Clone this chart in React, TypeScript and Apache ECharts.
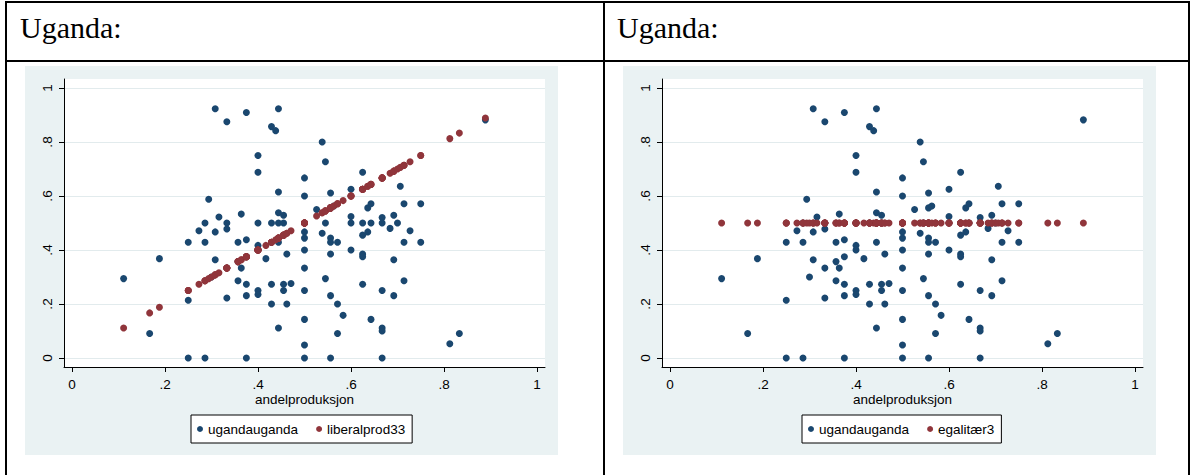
import React, { useEffect, useRef } from "react";
import * as echarts from "echarts";

// andelproduksjon (x) for each observation
const andelproduksjon = [
  0.111, 0.167, 0.188, 0.25, 0.25, 0.25, 0.273, 0.286, 0.286, 0.286,
  0.294, 0.3, 0.308, 0.308, 0.308, 0.316, 0.333, 0.333, 0.333, 0.333,
  0.333, 0.357, 0.357, 0.357, 0.364, 0.364, 0.375, 0.375, 0.375, 0.375,
  0.375, 0.375, 0.4, 0.4, 0.4, 0.4, 0.4, 0.4, 0.4, 0.417,
  0.429, 0.429, 0.429, 0.429, 0.438, 0.444, 0.444, 0.444, 0.444, 0.444,
  0.444, 0.455, 0.455, 0.455, 0.455, 0.462, 0.462, 0.471, 0.5, 0.5,
  0.5, 0.5, 0.5, 0.5, 0.5, 0.5, 0.5, 0.5, 0.526, 0.538,
  0.538, 0.545, 0.545, 0.545, 0.556, 0.556, 0.556, 0.556, 0.556, 0.556,
  0.556, 0.563, 0.571, 0.571, 0.571, 0.583, 0.6, 0.6, 0.6, 0.6,
  0.625, 0.625, 0.625, 0.625, 0.625, 0.625, 0.636, 0.636, 0.643, 0.643,
  0.643, 0.667, 0.667, 0.667, 0.667, 0.667, 0.667, 0.684, 0.692, 0.692,
  0.692, 0.7, 0.706, 0.714, 0.714, 0.714, 0.727, 0.75, 0.75, 0.8125,
  0.833, 0.889,
];

// ugandauganda (y) for each observation
const ugandauganda = [
  0.294, 0.091, 0.368, 0.429, 0.214, 0, 0.471, 0.5, 0.429, 0,
  0.588, 0.3, 0.923, 0.467, 0.364, 0.522, 0.875, 0.5, 0.478, 0.333,
  0.222, 0.429, 0.357, 0.286, 0.533, 0.333, 0.909, 0.438, 0.375, 0.273,
  0.231, 0, 0.75, 0.688, 0.5, 0.417, 0.4, 0.25, 0.235, 0.368,
  0.857, 0.5, 0.273, 0.2, 0.842, 0.923, 0.615, 0.538, 0.5, 0.429,
  0.111, 0.529, 0.5, 0.273, 0.25, 0.385, 0.2, 0.276, 0.667, 0.6,
  0.467, 0.444, 0.4, 0.333, 0.25, 0.143, 0.048, 0, 0.55, 0.8,
  0.462, 0.727, 0.5, 0.294, 0.611, 0.556, 0.444, 0.429, 0.385, 0.231,
  0, 0.563, 0.429, 0.2, 0.091, 0.158, 0.625, 0.524, 0.5, 0.4,
  0.688, 0.5, 0.455, 0.385, 0.375, 0.273, 0.556, 0.467, 0.571, 0.5,
  0.143, 0.52, 0.5, 0.25, 0.111, 0.1, 0, 0.48, 0.529, 0.364,
  0.231, 0.5, 0.636, 0.571, 0.429, 0.286, 0.471, 0.571, 0.429, 0.053,
  0.091, 0.882,
];

// liberalprod33 for each observation
const liberalprod33 = [
  0.111, 0.167, 0.188, 0.25, 0.25, 0.25, 0.273, 0.286, 0.286, 0.286,
  0.294, 0.3, 0.308, 0.308, 0.308, 0.316, 0.333, 0.333, 0.333, 0.333,
  0.333, 0.357, 0.357, 0.357, 0.364, 0.364, 0.375, 0.375, 0.375, 0.375,
  0.375, 0.375, 0.4, 0.4, 0.4, 0.4, 0.4, 0.4, 0.4, 0.417,
  0.429, 0.429, 0.429, 0.429, 0.438, 0.444, 0.444, 0.444, 0.444, 0.444,
  0.444, 0.455, 0.455, 0.455, 0.455, 0.462, 0.462, 0.471, 0.5, 0.5,
  0.5, 0.5, 0.5, 0.5, 0.5, 0.5, 0.5, 0.5, 0.526, 0.538,
  0.538, 0.545, 0.545, 0.545, 0.556, 0.556, 0.556, 0.556, 0.556, 0.556,
  0.556, 0.563, 0.571, 0.571, 0.571, 0.583, 0.6, 0.6, 0.6, 0.6,
  0.625, 0.625, 0.625, 0.625, 0.625, 0.625, 0.636, 0.636, 0.643, 0.643,
  0.643, 0.667, 0.667, 0.667, 0.667, 0.667, 0.667, 0.684, 0.692, 0.692,
  0.692, 0.7, 0.706, 0.714, 0.714, 0.714, 0.727, 0.75, 0.75, 0.8125,
  0.833, 0.889,
];

// egalitær3 for each observation
const egalitaer3 = [
  0.5, 0.5, 0.5, 0.5, 0.5, 0.5, 0.5, 0.5, 0.5, 0.5,
  0.5, 0.5, 0.5, 0.5, 0.5, 0.5, 0.5, 0.5, 0.5, 0.5,
  0.5, 0.5, 0.5, 0.5, 0.5, 0.5, 0.5, 0.5, 0.5, 0.5,
  0.5, 0.5, 0.5, 0.5, 0.5, 0.5, 0.5, 0.5, 0.5, 0.5,
  0.5, 0.5, 0.5, 0.5, 0.5, 0.5, 0.5, 0.5, 0.5, 0.5,
  0.5, 0.5, 0.5, 0.5, 0.5, 0.5, 0.5, 0.5, 0.5, 0.5,
  0.5, 0.5, 0.5, 0.5, 0.5, 0.5, 0.5, 0.5, 0.5, 0.5,
  0.5, 0.5, 0.5, 0.5, 0.5, 0.5, 0.5, 0.5, 0.5, 0.5,
  0.5, 0.5, 0.5, 0.5, 0.5, 0.5, 0.5, 0.5, 0.5, 0.5,
  0.5, 0.5, 0.5, 0.5, 0.5, 0.5, 0.5, 0.5, 0.5, 0.5,
  0.5, 0.5, 0.5, 0.5, 0.5, 0.5, 0.5, 0.5, 0.5, 0.5,
  0.5, 0.5, 0.5, 0.5, 0.5, 0.5, 0.5, 0.5, 0.5, 0.5,
  0.5, 0.5,
];

const tickValues = [0, 0.2, 0.4, 0.6, 0.8, 1];
const tickLabels = ["0", ".2", ".4", ".6", ".8", "1"];
const panelTitle = "Uganda:";
const xTitle = "andelproduksjon";
const blueName = "ugandauganda";
const redNames = ["liberalprod33", "egalitær3"];
const redValues = [liberalprod33, egalitaer3];

const FONT = "'Liberation Sans', Arial, Helvetica, sans-serif";
const SERIF = "'Liberation Serif', 'Times New Roman', serif";
const BLUE = "#1A476F";
const RED = "#90353B";
const BG = "#EAF2F3";
const GRIDLINE = "#E2EBED";
const FS = 13.5;

function fmt(v: number): string {
  const i = tickValues.findIndex((t) => Math.abs(t - v) < 1e-6);
  return i >= 0 ? tickLabels[i] : "";
}

function buildOption() {
  const grid: any[] = [];
  const xAxis: any[] = [];
  const yAxis: any[] = [];
  const series: any[] = [];
  const legend: any[] = [];
  const graphic: any[] = [];
  const offsets = [0, 598];

  offsets.forEach((dx, k) => {
    const g0 = k * 3;
    grid.push({ left: 64 + dx, top: 79, width: 481, height: 288 });
    grid.push({ left: 72 + dx, top: 79, width: 465, height: 288 });
    grid.push({ left: 64 + dx, top: 88, width: 481, height: 270 });

    xAxis.push({
      type: "value", gridIndex: g0, min: -8 / 465, max: 1 + 8 / 465,
      axisLine: { show: true, onZero: false, lineStyle: { color: "#000", width: 1 } },
      axisTick: { show: false }, axisLabel: { show: false }, splitLine: { show: false },
    });
    yAxis.push({
      type: "value", gridIndex: g0, min: -9 / 270, max: 1 + 9 / 270,
      axisLine: { show: true, onZero: false, lineStyle: { color: "#000", width: 1 } },
      axisTick: { show: false }, axisLabel: { show: false }, splitLine: { show: false },
    });

    xAxis.push({
      type: "value", gridIndex: g0 + 1, min: 0, max: 1, interval: 0.2,
      axisLine: { show: false },
      axisTick: { show: true, length: 5, lineStyle: { color: "#000", width: 1 } },
      axisLabel: { show: true, margin: 10, formatter: fmt, color: "#000", fontSize: FS, fontFamily: FONT },
      splitLine: { show: false },
    });
    yAxis.push({ type: "value", gridIndex: g0 + 1, min: 0, max: 1, show: false });

    xAxis.push({ type: "value", gridIndex: g0 + 2, min: 0, max: 1, show: false });
    yAxis.push({
      type: "value", gridIndex: g0 + 2, min: 0, max: 1, interval: 0.2,
      axisLine: { show: false },
      axisTick: { show: true, length: 5, lineStyle: { color: "#000", width: 1 } },
      axisLabel: { show: true, rotate: 90, margin: 10, formatter: fmt, color: "#000", fontSize: FS, fontFamily: FONT },
      splitLine: { show: true, lineStyle: { color: GRIDLINE, width: 1 } },
    });

    series.push({
      type: "scatter", name: blueName, xAxisIndex: g0, yAxisIndex: g0,
      data: andelproduksjon.map((x, i) => [x, ugandauganda[i]]),
      symbol: "circle", symbolSize: 7, itemStyle: { color: BLUE, opacity: 1 }, z: 3,
    });
    const rv = redValues[k];
    series.push({
      type: "scatter", name: redNames[k], xAxisIndex: g0, yAxisIndex: g0,
      data: andelproduksjon.map((x, i) => [x, rv[i]]),
      symbol: "circle", symbolSize: 7, itemStyle: { color: RED, opacity: 1 }, z: 4,
    });

    legend.push({
      data: [blueName, redNames[k]],
      left: (k === 0 ? 191 : 802), top: 415, orient: "horizontal",
      icon: "circle", itemWidth: 6, itemHeight: 6, itemGap: 18,
      padding: [7, 7, 7, 6], borderColor: "#000", borderWidth: 1, borderRadius: 0,
      backgroundColor: "#fff", selectedMode: false,
      textStyle: { fontSize: FS, color: "#000", fontFamily: FONT },
    });

    graphic.push({ type: "rect", z: -2, silent: true, shape: { x: 25 + dx, y: 66, width: 533, height: 389 }, style: { fill: BG } });
    graphic.push({ type: "rect", z: -1, silent: true, shape: { x: 64 + dx, y: 79, width: 481, height: 288 }, style: { fill: "#fff" } });
    graphic.push({
      type: "text", x: 304.5 + dx, y: 399, silent: true,
      style: { text: xTitle, fontSize: FS, fontFamily: FONT, fill: "#000", align: "center", verticalAlign: "middle" },
    });
    graphic.push({
      type: "text", x: (k === 0 ? 20 : 617), y: 27, silent: true,
      style: { text: panelTitle, fontSize: 30, fontFamily: SERIF, fill: "#000", align: "left", verticalAlign: "middle" },
    });
  });

  // table borders
  const lines = [
    [6, 1, 6, 475],
    [604, 1, 604, 475],
    [1189, 1, 1189, 475],
    [5, 2, 1190, 2],
    [5, 61, 1190, 61],
  ];
  lines.forEach(([x1, y1, x2, y2]) => {
    graphic.push({ type: "line", silent: true, shape: { x1, y1, x2, y2 }, style: { stroke: "#000", lineWidth: 2 } });
  });

  return {
    animation: false,
    backgroundColor: "#fff",
    grid, xAxis, yAxis, series, legend, graphic,
  };
}

export default function App() {
  const ref = useRef<HTMLDivElement>(null);
  useEffect(() => {
    if (!ref.current) return;
    const chart = echarts.init(ref.current, undefined, { renderer: "svg" });
    chart.setOption(buildOption() as any);
    return () => chart.dispose();
  }, []);
  return (
    <div
      ref={ref}
      style={{ position: "absolute", left: 0, top: 0, width: 1194, height: 475 }}
    />
  );
}
